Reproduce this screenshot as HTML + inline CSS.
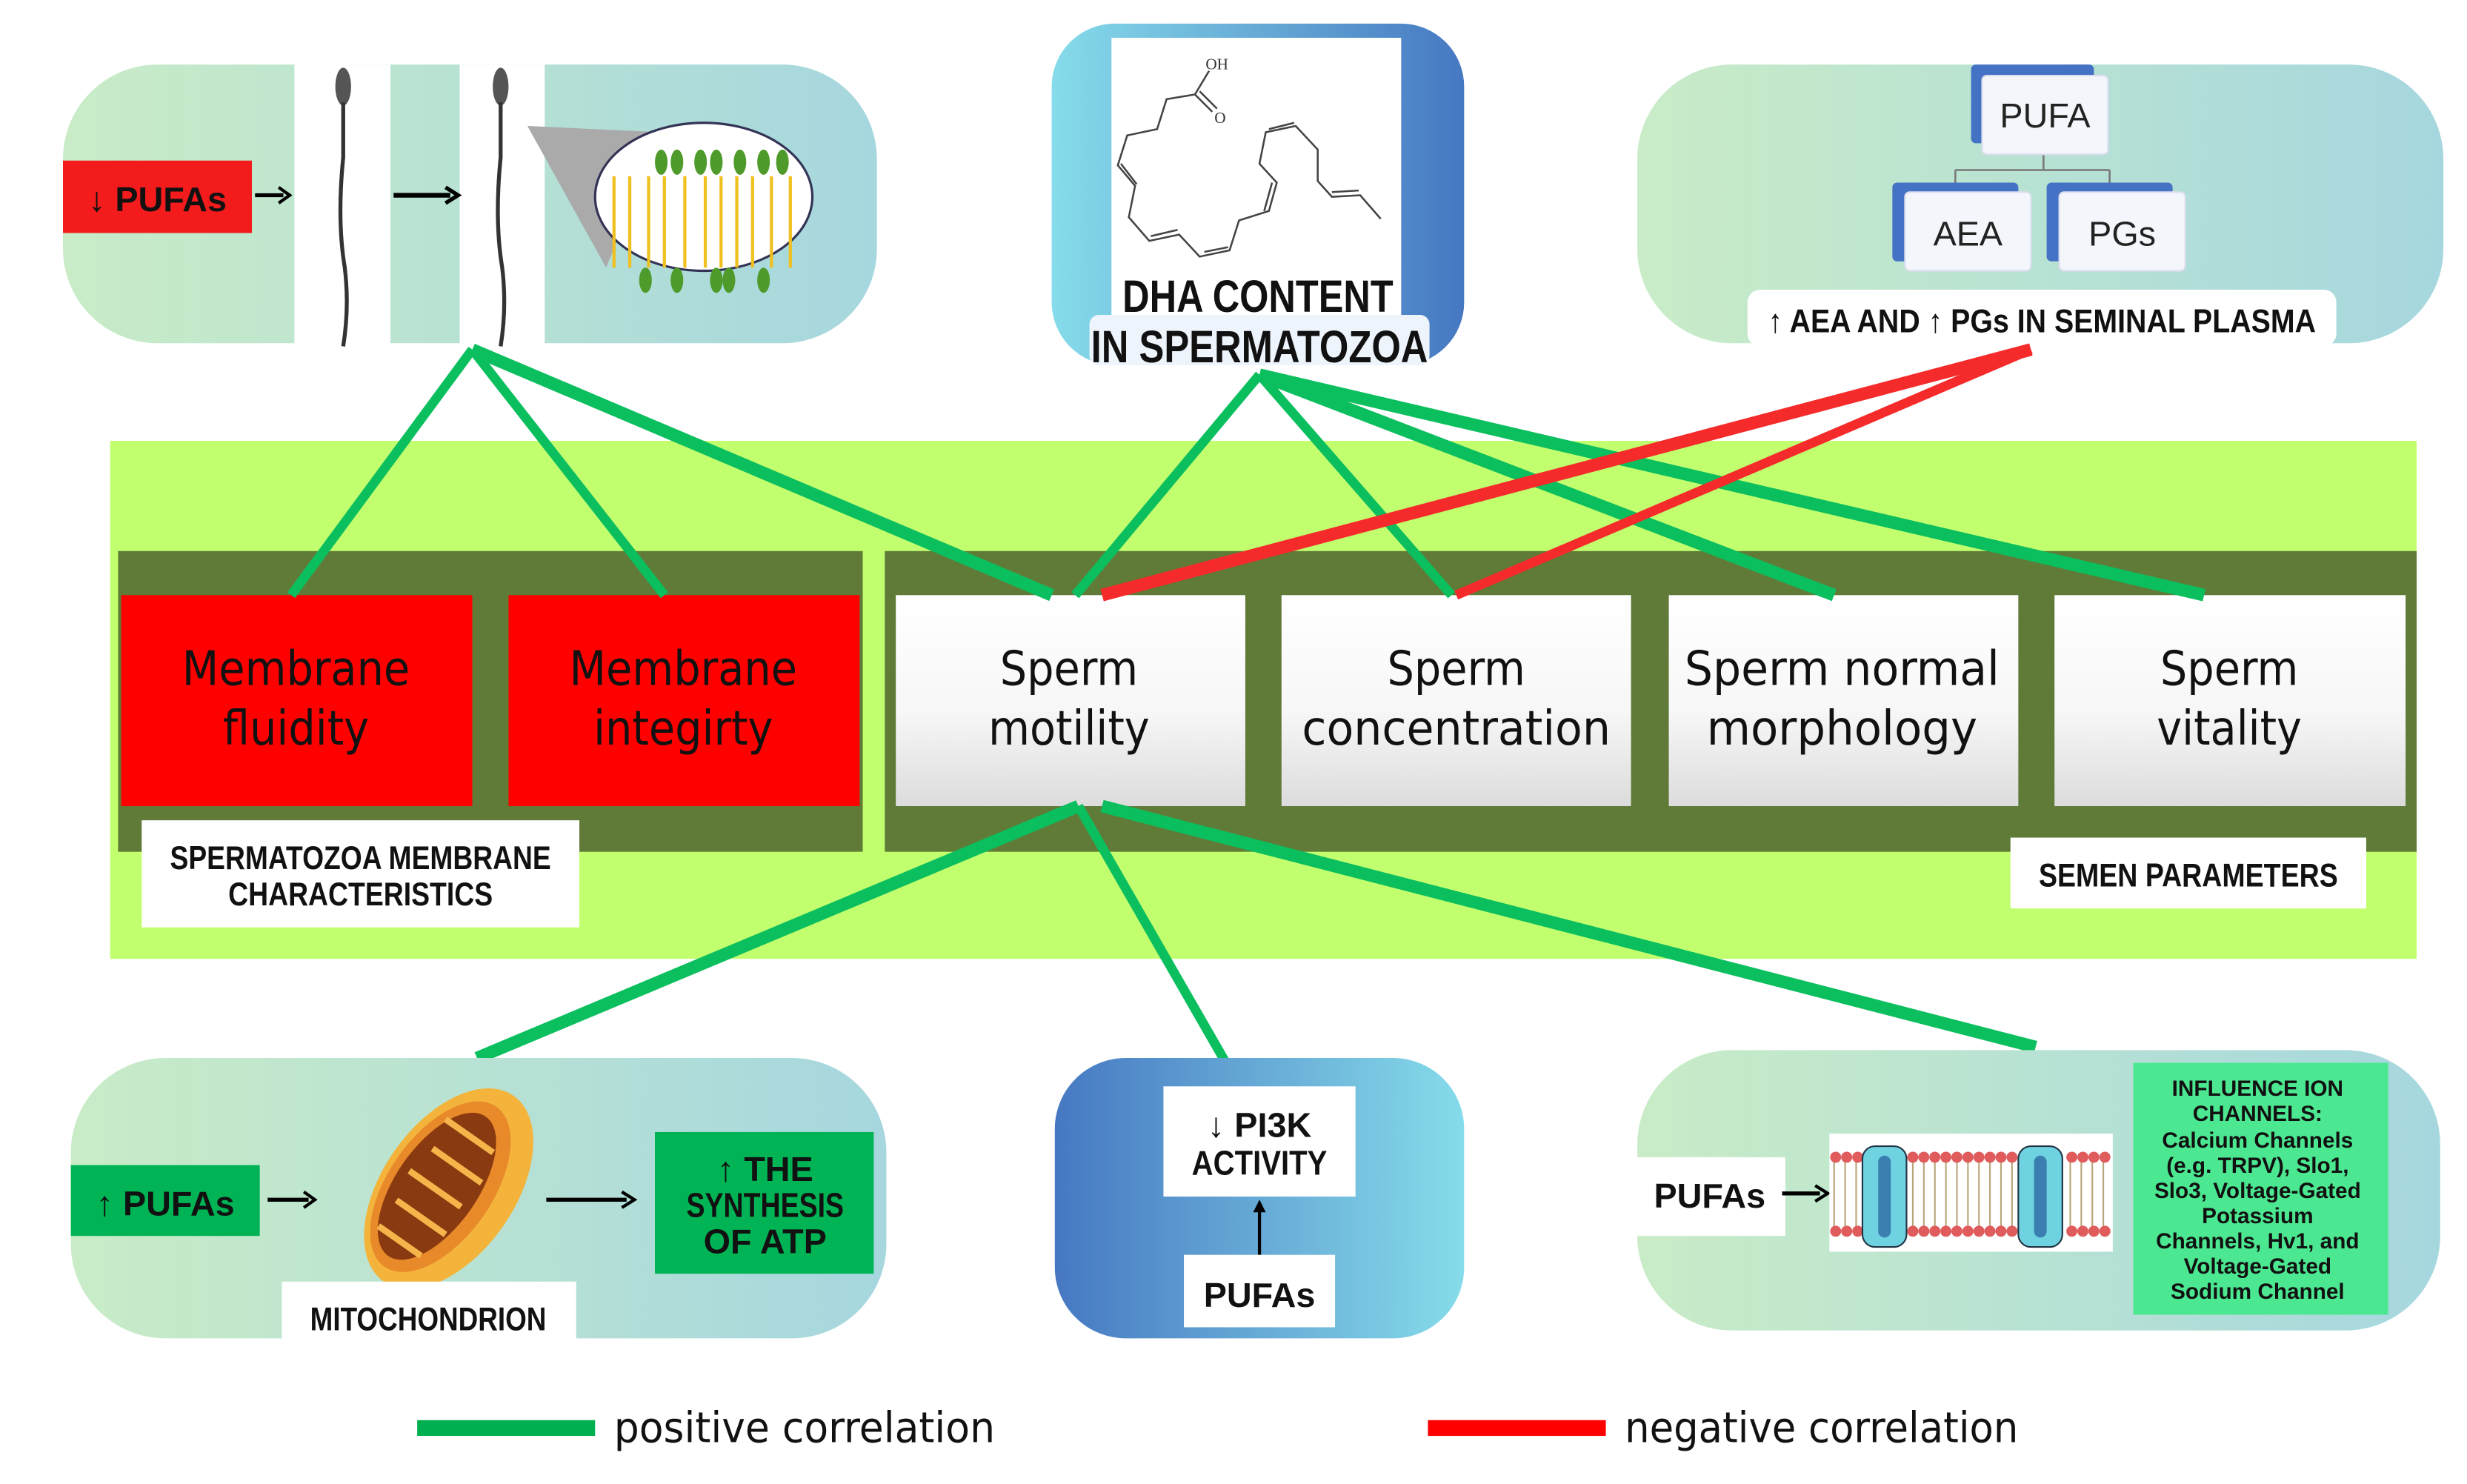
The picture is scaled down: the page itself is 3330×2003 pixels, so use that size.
<!DOCTYPE html>
<html><head><meta charset="utf-8"><style>html,body{margin:0;padding:0;background:#fff}svg{display:block}</style></head>
<body>
<svg width="3330" height="2003" viewBox="0 0 1567 942.5" preserveAspectRatio="xMinYMin meet" xmlns="http://www.w3.org/2000/svg" font-family="'Liberation Sans Narrow','Liberation Sans',sans-serif">
<defs>
<linearGradient id="gp" x1="0" x2="1" y1="0" y2="0"><stop offset="0" stop-color="#c9ecc7"/><stop offset="1" stop-color="#a6d7df"/></linearGradient>
<linearGradient id="gb" x1="0" x2="1"><stop offset="0" stop-color="#86dcea"/><stop offset="1" stop-color="#4678c2"/></linearGradient>
<linearGradient id="gb2" x1="0" x2="1"><stop offset="0" stop-color="#4678c2"/><stop offset="1" stop-color="#86dcea"/></linearGradient>
<linearGradient id="gw" x1="0" x2="0" y1="0" y2="1"><stop offset="0" stop-color="#ffffff"/><stop offset="0.55" stop-color="#f7f7f7"/><stop offset="1" stop-color="#dcdcdc"/></linearGradient>
</defs>

<!-- top-left panel -->
<rect x="40" y="41" width="517" height="177" rx="60" fill="url(#gp)"/>
<rect x="187" y="41" width="61" height="180" fill="#fff"/>
<rect x="292" y="41" width="54" height="180" fill="#fff"/>
<rect x="40" y="102" width="120" height="46" fill="#f31b1b"/>
<text x="100" y="134" font-size="22" font-weight="bold" text-anchor="middle" fill="#111">↓ PUFAs</text>
<path d="M162 124 H180" stroke="#000" stroke-width="2.5"/><path d="M177 119 L184 124 L177 129" fill="none" stroke="#000" stroke-width="2"/>
<path d="M250 124 H286" stroke="#000" stroke-width="3"/><path d="M283 119 L291 124 L283 129" fill="none" stroke="#000" stroke-width="2.5"/>
<ellipse cx="218" cy="55" rx="5" ry="12" fill="#555"/><path d="M218 65 V100 Q214 140 219 170 Q222 195 218 220" stroke="#333" stroke-width="2.5" fill="none"/>
<ellipse cx="318" cy="55" rx="5" ry="12" fill="#555"/><path d="M318 65 V100 Q314 140 319 170 Q322 195 318 220" stroke="#333" stroke-width="2.5" fill="none"/>
<path d="M335 80 L420 84 L385 170 Z" fill="#aaa"/>
<ellipse cx="447" cy="125" rx="69" ry="47" fill="#fff" stroke="#335" stroke-width="1.5"/>
<g fill="#4e9a2a">
<ellipse cx="420" cy="103" rx="4" ry="8"/><ellipse cx="430" cy="103" rx="4" ry="8"/><ellipse cx="445" cy="103" rx="4" ry="8"/><ellipse cx="455" cy="103" rx="4" ry="8"/><ellipse cx="470" cy="103" rx="4" ry="8"/><ellipse cx="485" cy="103" rx="4" ry="8"/><ellipse cx="497" cy="103" rx="4" ry="8"/>
<ellipse cx="410" cy="178" rx="4" ry="8"/><ellipse cx="430" cy="178" rx="4" ry="8"/><ellipse cx="455" cy="178" rx="4" ry="8"/><ellipse cx="463" cy="178" rx="4" ry="8"/><ellipse cx="485" cy="178" rx="4" ry="8"/>
</g>
<g stroke="#f0c020" stroke-width="2">
<path d="M390 112 V170 M400 112 V170 M412 112 V170 M422 112 V170 M435 112 V170 M448 112 V170 M458 112 V170 M468 112 V170 M478 112 V170 M490 112 V170 M502 112 V170"/>
</g>

<!-- DHA panel -->
<rect x="668" y="15" width="262" height="217" rx="40" fill="url(#gb)"/>
<rect x="706" y="24" width="184" height="185" fill="#fff"/>
<g stroke="#444" stroke-width="1.2" fill="none">
<path d="M768 45 L759 60 L741 63 L735 82 L716 86 L710 105 L721 118 L717 138 L730 153 L749 149 L762 163 L781 159 L787 140 L806 134 L811 116 L800 104 L804 84 L823 80 L837 95 L837 115 L846 125 L864 124 L877 139"/>
<path d="M759 60 L770 71 M762 58 L773 69"/>
<path d="M712 104 L722 117 M731 150 L748 146 M765 160 L780 157 M803 134 L808 116 M806 82 L822 78 M846 122 L863 121"/>
</g>
<text x="773" y="44" font-size="10" font-family="Liberation Serif,serif" fill="#333" text-anchor="middle">OH</text>
<text x="775" y="78" font-size="10" font-family="Liberation Serif,serif" fill="#333" text-anchor="middle">O</text>
<rect x="692" y="200" width="216" height="32" rx="6" fill="#eef4fb"/>
<text x="799" y="198" font-size="29" font-weight="bold" text-anchor="middle" fill="#111" textLength="172" lengthAdjust="spacingAndGlyphs">DHA CONTENT</text>
<text x="800" y="230" font-size="29" font-weight="bold" text-anchor="middle" fill="#111" textLength="214" lengthAdjust="spacingAndGlyphs">IN SPERMATOZOA</text>

<!-- top-right panel -->
<rect x="1040" y="41" width="512" height="177" rx="60" fill="url(#gp)"/>
<path d="M1298 98 V108 M1242 108 H1340 M1242 108 V122 M1340 108 V122" stroke="#777" stroke-width="1.2" fill="none"/>
<rect x="1252" y="41" width="78" height="50" rx="3" fill="#4472c4"/>
<rect x="1259" y="48" width="80" height="50" rx="3" fill="#f3f6fb" stroke="#dde"/>
<text x="1299" y="81" font-size="22" text-anchor="middle" fill="#222" font-family="Liberation Sans,sans-serif">PUFA</text>
<rect x="1202" y="116" width="80" height="50" rx="3" fill="#4472c4"/>
<rect x="1210" y="122" width="80" height="50" rx="3" fill="#f3f6fb" stroke="#dde"/>
<text x="1250" y="156" font-size="22" text-anchor="middle" fill="#222" font-family="Liberation Sans,sans-serif">AEA</text>
<rect x="1300" y="116" width="80" height="50" rx="3" fill="#4472c4"/>
<rect x="1308" y="122" width="80" height="50" rx="3" fill="#f3f6fb" stroke="#dde"/>
<text x="1348" y="156" font-size="22" text-anchor="middle" fill="#222" font-family="Liberation Sans,sans-serif">PGs</text>
<rect x="1110" y="184" width="374" height="36" rx="8" fill="#fff"/>
<text x="1297" y="211" font-size="21" font-weight="bold" text-anchor="middle" fill="#111" textLength="348" lengthAdjust="spacingAndGlyphs">↑ AEA AND ↑ PGs IN SEMINAL PLASMA</text>

<!-- big band -->
<rect x="70" y="280" width="1465" height="329" fill="#c2ff6e"/>
<rect x="75" y="350" width="473" height="191" fill="#5f7b37"/>
<rect x="562" y="350" width="973" height="191" fill="#5f7b37"/>
<rect x="77" y="378" width="223" height="134" fill="#ff0000"/>
<rect x="323" y="378" width="223" height="134" fill="#ff0000"/>
<rect x="569" y="378" width="222" height="134" fill="url(#gw)"/>
<rect x="814" y="378" width="222" height="134" fill="url(#gw)"/>
<rect x="1060" y="378" width="222" height="134" fill="url(#gw)"/>
<rect x="1305" y="378" width="223" height="134" fill="url(#gw)"/>
<g font-family="'DejaVu Sans Condensed','Liberation Sans',sans-serif" font-size="30" text-anchor="middle" fill="#111">
<text x="188" y="435">Membrane</text><text x="188" y="473">fluidity</text>
<text x="434" y="435">Membrane</text><text x="434" y="473">integirty</text>
<text x="679" y="435">Sperm</text><text x="679" y="473">motility</text>
<text x="925" y="435">Sperm</text><text x="925" y="473" textLength="196" lengthAdjust="spacingAndGlyphs">concentration</text>
<text x="1170" y="435" textLength="200" lengthAdjust="spacingAndGlyphs">Sperm normal</text><text x="1170" y="473" textLength="172" lengthAdjust="spacingAndGlyphs">morphology</text>
<text x="1416" y="435">Sperm</text><text x="1416" y="473">vitality</text>
</g>
<rect x="90" y="521" width="278" height="68" fill="#fff"/>
<text x="229" y="552" font-size="21" font-weight="bold" text-anchor="middle" fill="#111" textLength="242" lengthAdjust="spacingAndGlyphs">SPERMATOZOA MEMBRANE</text>
<text x="229" y="575" font-size="21" font-weight="bold" text-anchor="middle" fill="#111" textLength="168" lengthAdjust="spacingAndGlyphs">CHARACTERISTICS</text>
<rect x="1277" y="532" width="226" height="45" fill="#fff"/>
<text x="1390" y="563" font-size="21" font-weight="bold" text-anchor="middle" fill="#111" textLength="190" lengthAdjust="spacingAndGlyphs">SEMEN PARAMETERS</text>

<!-- connectors -->
<g stroke="#0bbf5e" stroke-linecap="butt" fill="none">
<path d="M300 222 L185 378" stroke-width="6"/>
<path d="M300 222 L422 378" stroke-width="6"/>
<path d="M300 222 L668 378" stroke-width="8"/>
<path d="M800 238 L683 378" stroke-width="6"/>
<path d="M800 238 L922 378" stroke-width="6"/>
<path d="M800 238 L1165 378" stroke-width="8"/>
<path d="M800 238 L1400 378" stroke-width="8"/>
<path d="M685 512 L303 672" stroke-width="8"/>
<path d="M685 512 L793 700" stroke-width="6"/>
<path d="M700 512 L1293 665" stroke-width="8"/>
</g>
<g stroke="#f52a2a" fill="none">
<path d="M1290 222 L700 378" stroke-width="8"/>
<path d="M1290 222 L925 378" stroke-width="6"/>
</g>

<!-- bottom-left panel -->
<rect x="45" y="672" width="518" height="178" rx="60" fill="url(#gp)"/>
<rect x="45" y="740" width="120" height="45" fill="#00b455"/>
<text x="105" y="772" font-size="22" font-weight="bold" text-anchor="middle" fill="#111">↑ PUFAs</text>
<path d="M170 762 H196" stroke="#000" stroke-width="2.5"/><path d="M193 757 L200 762 L193 767" fill="none" stroke="#000" stroke-width="2"/>
<path d="M347 762 H398" stroke="#000" stroke-width="2.5"/><path d="M395 757 L403 762 L395 767" fill="none" stroke="#000" stroke-width="2"/>
<g transform="rotate(35 285 755)">
<ellipse cx="285" cy="755" rx="42" ry="72" fill="#f4b43c"/>
<ellipse cx="280" cy="757" rx="33" ry="62" fill="#e88a2a"/>
<ellipse cx="278" cy="758" rx="26" ry="54" fill="#8a3a10"/>
<path d="M258 720 H295 M262 740 H300 M258 760 H298 M262 780 H300 M262 800 H295" stroke="#f6b54a" stroke-width="4"/>
</g>
<rect x="416" y="719" width="139" height="90" fill="#00b455"/>
<text x="486" y="750" font-size="22" font-weight="bold" text-anchor="middle" fill="#111">↑ THE</text>
<text x="486" y="773" font-size="22" font-weight="bold" text-anchor="middle" fill="#111" textLength="100" lengthAdjust="spacingAndGlyphs">SYNTHESIS</text>
<text x="486" y="796" font-size="22" font-weight="bold" text-anchor="middle" fill="#111">OF ATP</text>
<rect x="179" y="814" width="187" height="38" fill="#fff"/>
<text x="272" y="845" font-size="21" font-weight="bold" text-anchor="middle" fill="#111" textLength="150" lengthAdjust="spacingAndGlyphs">MITOCHONDRION</text>

<!-- bottom-middle panel -->
<rect x="670" y="672" width="260" height="178" rx="45" fill="url(#gb2)"/>
<rect x="739" y="690" width="122" height="70" fill="#fff"/>
<text x="800" y="722" font-size="22" font-weight="bold" text-anchor="middle" fill="#111">↓ PI3K</text>
<text x="800" y="746" font-size="22" font-weight="bold" text-anchor="middle" fill="#111" textLength="86" lengthAdjust="spacingAndGlyphs">ACTIVITY</text>
<path d="M800 797 V768" stroke="#000" stroke-width="2"/><path d="M796 770 L800 762 L804 770" fill="#000"/>
<rect x="752" y="797" width="96" height="46" fill="#fff"/>
<text x="800" y="830" font-size="22" font-weight="bold" text-anchor="middle" fill="#111">PUFAs</text>

<!-- bottom-right panel -->
<rect x="1040" y="667" width="510" height="178" rx="60" fill="url(#gp)"/>
<rect x="1040" y="735" width="94" height="50" fill="#fff"/>
<text x="1086" y="767" font-size="22" font-weight="bold" text-anchor="middle" fill="#111">PUFAs</text>
<path d="M1132 758 H1156" stroke="#000" stroke-width="2.5"/><path d="M1153 753 L1161 758 L1153 763" fill="none" stroke="#000" stroke-width="2"/>
<rect x="1162" y="720" width="180" height="75" fill="#fff"/>
<g stroke="#b9a57a" stroke-width="1"><path d="M1165 735 V782 M1172 735 V782 M1179 735 V782 M1215 735 V782 M1222 735 V782 M1229 735 V782 M1236 735 V782 M1243 735 V782 M1250 735 V782 M1257 735 V782 M1264 735 V782 M1271 735 V782 M1278 735 V782 M1315 735 V782 M1322 735 V782 M1329 735 V782 M1336 735 V782"/></g>
<g fill="#e05b5b">
<circle cx="1166" cy="735" r="3.5"/><circle cx="1173" cy="735" r="3.5"/><circle cx="1180" cy="735" r="3.5"/><circle cx="1215" cy="735" r="3.5"/><circle cx="1222" cy="735" r="3.5"/><circle cx="1229" cy="735" r="3.5"/><circle cx="1236" cy="735" r="3.5"/><circle cx="1243" cy="735" r="3.5"/><circle cx="1250" cy="735" r="3.5"/><circle cx="1257" cy="735" r="3.5"/><circle cx="1264" cy="735" r="3.5"/><circle cx="1271" cy="735" r="3.5"/><circle cx="1278" cy="735" r="3.5"/><circle cx="1316" cy="735" r="3.5"/><circle cx="1323" cy="735" r="3.5"/><circle cx="1330" cy="735" r="3.5"/><circle cx="1337" cy="735" r="3.5"/>
<circle cx="1166" cy="782" r="3.5"/><circle cx="1173" cy="782" r="3.5"/><circle cx="1180" cy="782" r="3.5"/><circle cx="1215" cy="782" r="3.5"/><circle cx="1222" cy="782" r="3.5"/><circle cx="1229" cy="782" r="3.5"/><circle cx="1236" cy="782" r="3.5"/><circle cx="1243" cy="782" r="3.5"/><circle cx="1250" cy="782" r="3.5"/><circle cx="1257" cy="782" r="3.5"/><circle cx="1264" cy="782" r="3.5"/><circle cx="1271" cy="782" r="3.5"/><circle cx="1278" cy="782" r="3.5"/><circle cx="1316" cy="782" r="3.5"/><circle cx="1323" cy="782" r="3.5"/><circle cx="1330" cy="782" r="3.5"/><circle cx="1337" cy="782" r="3.5"/>
</g>
<rect x="1183" y="728" width="28" height="64" rx="8" fill="#6fd2e0" stroke="#234" stroke-width="1"/>
<rect x="1282" y="728" width="28" height="64" rx="8" fill="#6fd2e0" stroke="#234" stroke-width="1"/>
<rect x="1193" y="734" width="8" height="52" rx="4" fill="#3a7fb0"/><rect x="1292" y="734" width="8" height="52" rx="4" fill="#3a7fb0"/>
<rect x="1355" y="675" width="162" height="160" fill="#4ce891"/>
<g font-size="14" font-weight="bold" text-anchor="middle" fill="#111">
<text x="1434" y="696">INFLUENCE ION</text>
<text x="1434" y="712">CHANNELS:</text>
<text x="1434" y="729">Calcium Channels</text>
<text x="1434" y="745">(e.g. TRPV), Slo1,</text>
<text x="1434" y="761">Slo3, Voltage-Gated</text>
<text x="1434" y="777">Potassium</text>
<text x="1434" y="793">Channels, Hv1, and</text>
<text x="1434" y="809">Voltage-Gated</text>
<text x="1434" y="825">Sodium Channel</text>
</g>

<!-- legend -->
<rect x="265" y="902" width="113" height="10" fill="#00b050"/>
<text x="390" y="916" font-size="27" fill="#111" font-family="'DejaVu Sans Condensed','Liberation Sans',sans-serif" textLength="242" lengthAdjust="spacingAndGlyphs">positive correlation</text>
<rect x="907" y="902" width="113" height="10" fill="#ff0000"/>
<text x="1032" y="916" font-size="27" fill="#111" font-family="'DejaVu Sans Condensed','Liberation Sans',sans-serif" textLength="250" lengthAdjust="spacingAndGlyphs">negative correlation</text>
</svg>
</body></html>
